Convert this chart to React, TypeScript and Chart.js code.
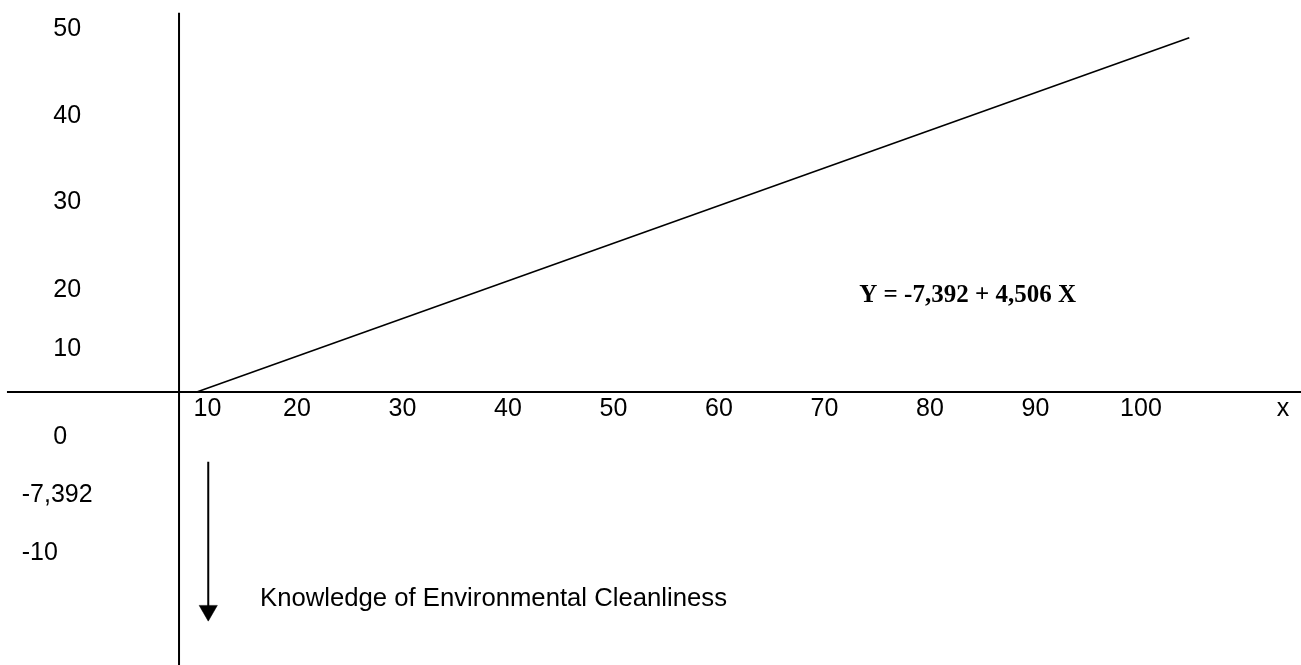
import React, { useEffect, useRef } from "react";
import { Chart, registerables } from "chart.js";

Chart.register(...registerables);

// ---- data (axis units) ----
const xRange = [-8.15, 115.17];
const yRange = [-37.71, 54.14];

// axes of the diagram
const verticalAxisX = 8.82;
const verticalAxisY = [52.39, -37.71];
const horizontalAxisY = 0;
const horizontalAxisX = [-7.49, 115.17];

// regression line Y = -7,392 + 4,506 X (schematic)
const lineX = [10.5, 104.58];
const lineY = [0, 48.93];

// arrow (shaft start, arrow head)
const arrowX = 11.59;
const arrowY = [-9.63, -30.2];

// tick labels and where they sit on the axes
const xTickLabels = ["10", "20", "30", "40", "50", "60", "70", "80", "90", "100", "x"];
const xTickPos = [11.52, 20, 30, 40, 50, 60, 70, 80, 90, 100, 113.47];
const yTickLabels = ["50", "40", "30", "20", "10", "0", "-7,392", "-10"];
const yTickPos = [50.18, 38.15, 26.17, 14.02, 5.96, -6.29, -14.23, -22.24];

// text annotations
const equationText = "Y = -7,392 + 4,506 X";
const equationPos = [73.3, 12.39];
const captionText = "Knowledge of Environmental Cleanliness";
const captionPos = [16.5, -29.56];

// ---- layout / style constants ----
const W = 1301;
const H = 665;
const SANS = "'Liberation Sans', Arial, sans-serif";
const SERIF = "'Liberation Serif', 'Times New Roman', serif";
const yLabelLeftPos = -3.1; // x (axis units) where non-negative labels start
const yLabelLeftNeg = -6.09; // x (axis units) where negative labels start
const xLabelBaselineOffset = 24; // px below the horizontal axis

const textPlugin = {
  id: "diagramText",
  afterDatasetsDraw(chart: any) {
    const { ctx, scales } = chart;
    const xs = scales.x;
    const ys = scales.y;
    ctx.save();
    ctx.fillStyle = "#000";

    // x tick labels
    ctx.font = `25px ${SANS}`;
    ctx.textAlign = "center";
    ctx.textBaseline = "alphabetic";
    const baseY = ys.getPixelForValue(horizontalAxisY) + xLabelBaselineOffset;
    xTickLabels.forEach((lab, i) => {
      ctx.fillText(lab, xs.getPixelForValue(xTickPos[i]), baseY);
    });

    // y tick labels
    ctx.textAlign = "left";
    ctx.textBaseline = "middle";
    yTickLabels.forEach((lab, i) => {
      const lx = lab.startsWith("-") ? yLabelLeftNeg : yLabelLeftPos;
      ctx.fillText(lab, xs.getPixelForValue(lx), ys.getPixelForValue(yTickPos[i]));
    });

    // equation
    ctx.textBaseline = "alphabetic";
    ctx.font = `bold 25px ${SERIF}`;
    ctx.fillText(equationText, xs.getPixelForValue(equationPos[0]), ys.getPixelForValue(equationPos[1]));

    // caption
    ctx.font = `25.7px ${SANS}`;
    ctx.fillText(captionText, xs.getPixelForValue(captionPos[0]), ys.getPixelForValue(captionPos[1]));

    ctx.restore();
  },
};

export default function App() {
  const ref = useRef<HTMLCanvasElement | null>(null);

  useEffect(() => {
    if (!ref.current) return;
    const chart = new Chart(ref.current, {
      type: "line",
      data: {
        datasets: [
          {
            label: "vertical axis",
            data: verticalAxisY.map((y) => ({ x: verticalAxisX, y })),
            borderColor: "#000",
            borderWidth: 2,
            pointRadius: 0,
          },
          {
            label: "horizontal axis",
            data: horizontalAxisX.map((x) => ({ x, y: horizontalAxisY })),
            borderColor: "#000",
            borderWidth: 2,
            pointRadius: 0,
          },
          {
            label: "regression",
            data: lineX.map((x, i) => ({ x, y: lineY[i] })),
            borderColor: "#000",
            borderWidth: 1.6,
            pointRadius: 0,
          },
          {
            label: "arrow",
            data: arrowY.map((y) => ({ x: arrowX, y })),
            borderColor: "#000",
            borderWidth: 2,
            pointRadius: [0, 10.5],
            pointStyle: "triangle",
            rotation: 180,
            pointBackgroundColor: "#000",
            pointBorderColor: "#000",
            pointBorderWidth: 0.5,
          } as any,
        ],
      },
      options: {
        animation: false,
        responsive: false,
        devicePixelRatio: 1,
        layout: { padding: 0, autoPadding: false },
        events: [],
        scales: {
          x: { type: "linear", min: xRange[0], max: xRange[1], display: false },
          y: { type: "linear", min: yRange[0], max: yRange[1], display: false },
        },
        plugins: {
          legend: { display: false },
          tooltip: { enabled: false },
        },
      },
      plugins: [textPlugin],
    });
    return () => chart.destroy();
  }, []);

  return (
    <div style={{ position: "absolute", left: 0, top: 0, width: W, height: H, background: "#fff" }}>
      <canvas ref={ref} width={W} height={H} style={{ display: "block", width: W, height: H }} />
    </div>
  );
}
